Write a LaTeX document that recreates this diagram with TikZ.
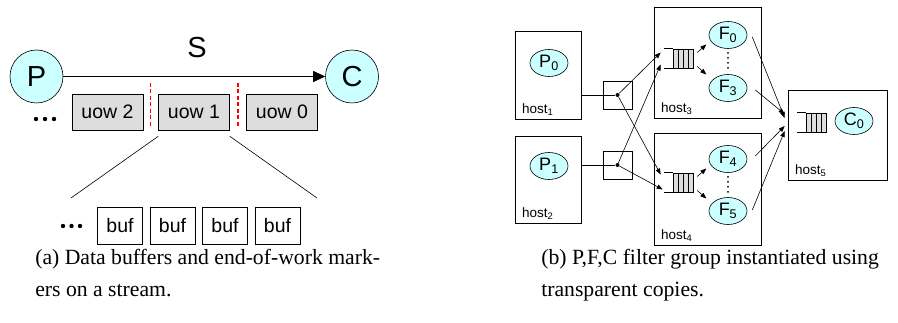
\documentclass[tikz,border=0pt]{standalone}
\usepackage{fontspec}
\setmainfont{Liberation Sans}
\newfontfamily\capfont{Liberation Serif}
\usetikzlibrary{shapes,arrows.meta,calc}
\definecolor{procfill}{HTML}{CCFFFF}
\definecolor{uowfill}{HTML}{DDDDDD}

\begin{document}
\begin{tikzpicture}[x=1pt,y=-1pt, semithick, >={Triangle[length=6pt,width=4.5pt]}]
			\tikzstyle{every node}=[inner sep=0pt]
			\tikzstyle{proc}=[circle, draw, fill=procfill, minimum size=53pt, font=\fontsize{29}{29}\selectfont]
			\tikzstyle{uow}=[rectangle, draw, fill=uowfill, minimum width=71pt, minimum height=36pt, font=\fontsize{19.5}{19.5}\selectfont]
			\tikzstyle{buf}=[rectangle, draw, minimum width=45pt, minimum height=37pt, font=\fontsize{19.5}{19.5}\selectfont]
			\tikzstyle{eow}=[red, line width=1.1pt, dash pattern=on 4pt off 2.5pt]
			\tikzstyle{host}=[rectangle, draw]
			\tikzstyle{hostlbl}=[anchor=base west, font=\fontsize{13.5}{13.5}\selectfont]
			\tikzstyle{filter}=[ellipse, draw, fill=procfill, minimum width=38pt, minimum height=27pt, font=\fontsize{18}{18}\selectfont]
			\tikzstyle{queue}=[rectangle, draw, fill=uowfill, minimum width=20pt, minimum height=19pt,
				path picture={\foreach \k in {1,2,3} \draw ([xshift=5pt*\k]path picture bounding box.north west) -- ([xshift=5pt*\k]path picture bounding box.south west);}]
			\tikzstyle{jbox}=[rectangle, draw, minimum width=29pt, minimum height=28pt]
			\tikzstyle{jdot}=[circle, fill, minimum size=4pt]
			\tikzstyle{caption}=[anchor=north west, align=left, font=\capfont\fontsize{21.7}{32}\selectfont]
			\useasboundingbox (0,0) rectangle (898,323);

			\node[proc] (P) at (36.5,76.5) {P};
			\node[proc] (C) at (352,76.5) {C};
			\node[font=\fontsize{29}{29}\selectfont] (S) at (197,48) {S};
			\path (P) edge[-{Triangle[length=12pt,width=11pt]}] (C);
			\node[uow] (uow2) at (107.5,112) {uow 2};
			\node[uow] (uow1) at (194,112) {uow 1};
			\node[uow] (uow0) at (282,112) {uow 0};
			\draw[eow] ($(uow2.north east)!.5!(uow1.north west)+(0,-11)$) -- ++(0,44);
			\draw[eow] ($(uow1.north east)!.5!(uow0.north west)+(0,-11)$) -- ++(0,44);
			\foreach \x in {36,45,54} \fill (\x,119) circle (2.2);
			\foreach \i/\x in {1/120,2/172.5,3/225,4/277.5} \node[buf] (buf\i) at (\x,225.5) {buf};
			\foreach \x in {63,71.5,80} \fill (\x,226) circle (2.2);
			\coordinate (fanL) at (71,198);
			\coordinate (fanR) at (317,198);
			\draw ($(uow1.south west)+(0,6)$) -- (fanL);
			\draw ($(uow1.south east)+(0,6)$) -- (fanR);

			\node[host, minimum width=66pt, minimum height=88pt] (host1) at (548,75) {};
			\node[host, minimum width=66pt, minimum height=87pt] (host2) at (548,179.5) {};
			\node[host, minimum width=107pt, minimum height=111pt] (host3) at (707.5,62.5) {};
			\node[host, minimum width=107pt, minimum height=112pt] (host4) at (707.5,189) {};
			\node[host, minimum width=99pt, minimum height=90pt] (host5) at (837.5,135) {};
			\foreach \h in {1,...,5} \node[hostlbl] (lbl\h) at ($(host\h.south west)+(7,-6)$) {host\textsubscript{\h}};
			\node[filter] (P0) at (549,63) {P\textsubscript{0}};
			\node[filter] (P1) at (549,166) {P\textsubscript{1}};
			\node[filter] (F0) at (728,35) {F\textsubscript{0}};
			\node[filter] (F3) at (728,88) {F\textsubscript{3}};
			\node[filter] (F4) at (728,159) {F\textsubscript{4}};
			\node[filter] (F5) at (728,211) {F\textsubscript{5}};
			\node[filter] (C0) at (854,121) {C\textsubscript{0}};
			\node[queue] (q3) at (683,58.5) {};
			\node[queue] (q4) at (683,182.5) {};
			\node[queue] (q5) at (816.5,122.5) {};
			\foreach \q in {q3,q4,q5} {
				\draw (\q.north west) -- ++(-9,0);
				\draw (\q.south west) -- ++(-9,0);
			}
			\node[jbox] (sw1) at (617.5,95) {};
			\node[jbox] (sw2) at (617.5,165) {};
			\node[jdot] (j1) at (sw1.center) {};
			\node[jdot] (j2) at (sw2.center) {};
			\draw (host1.east |- j1) -- (j1);
			\draw (host2.east |- j2) -- (j2);
			\coordinate (q3a) at ($(q3.west)+(-12,-6)$);
			\coordinate (q3b) at ($(q3.west)+(-12,6)$);
			\coordinate (q4a) at ($(q4.west)+(-12,-8)$);
			\coordinate (q4b) at ($(q4.west)+(-10,7)$);
			\path[->] (j1) edge (q3a) edge (q4a);
			\path[->] (j2) edge (q3b) edge (q4b);
			\foreach \q in {q3,q4} {
				\draw[->] ($(\q.east)+(4,-6)$) -- ($(\q.east)+(13,-14)$);
				\draw[->] ($(\q.east)+(4,8)$) -- ($(\q.east)+(13,16)$);
			}
			\foreach \a/\b in {F0/F3,F4/F5}
				\foreach \k in {0,...,3} \fill ($(\a.south)+(0,4+5*\k)$) circle (1);
			\coordinate (c5a) at ($(host5.west)+(-3,-17)$);
			\coordinate (c5b) at ($(host5.west)+(-3,-21)$);
			\coordinate (c5c) at ($(host5.west)+(-3,-9)$);
			\coordinate (c5d) at ($(host5.west)+(-3,-4)$);
			\draw[->] ($(F0.east)+(5,2)$) -- (c5a);
			\draw[->] ($(F3.east)+(8,2)$) -- (c5b);
			\draw[->] ($(F4.east)+(8,-3)$) -- (c5c);
			\draw[->] ($(F5.east)+(5,-1)$) -- (c5d);

			\node[caption] (capA) at (35,249) {(a) Data buffers and end-of-work mark-\\ers on a stream.};
			\node[caption] (capB) at (541,249) {(b) P,F,C filter group instantiated using\\transparent copies.};
		\end{tikzpicture}
\end{document}
